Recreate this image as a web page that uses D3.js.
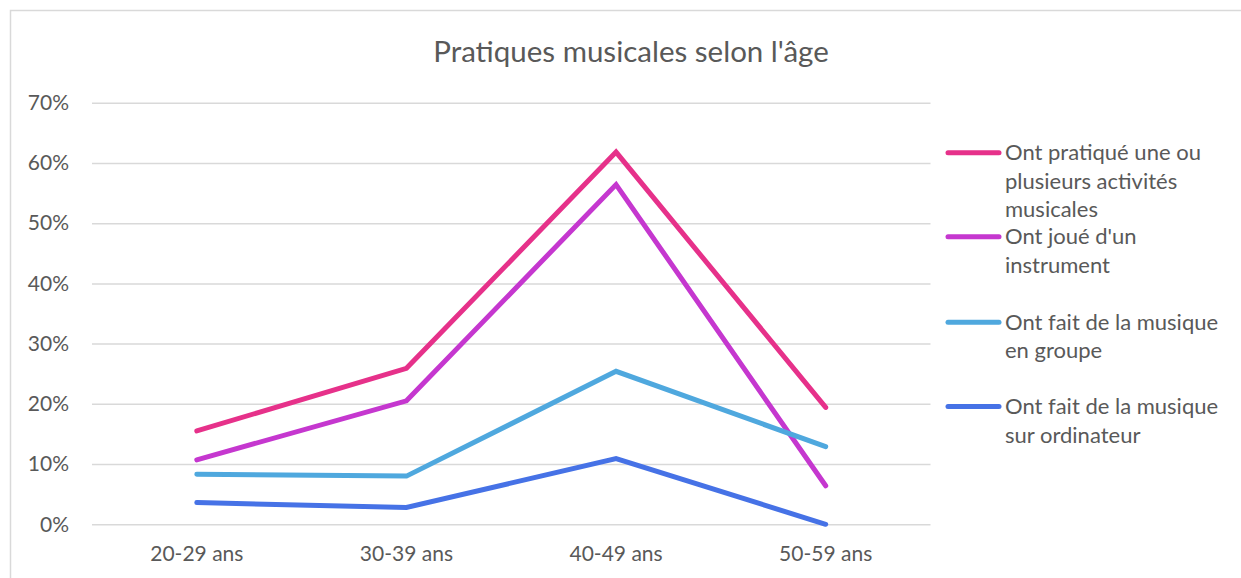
<!DOCTYPE html>
<html><head><meta charset="utf-8">
<script src="https://cdn.jsdelivr.net/npm/d3@7/dist/d3.min.js"></script>
<style>body{margin:0;background:#fff;} svg{display:block;}</style>
</head><body>
<svg id="c" width="1241" height="578"></svg>
<script>
const categories = ["20-29 ans","30-39 ans","40-49 ans","50-59 ans"];
const seriesNames = [
  ["Ont pratiqué une ou","plusieurs activités","musicales"],
  ["Ont joué d'un","instrument"],
  ["Ont fait de la musique","en groupe"],
  ["Ont fait de la musique","sur ordinateur"]
];
const pratique   = [0.155, 0.259, 0.618, 0.194];
const instrument = [0.107, 0.205, 0.564, 0.064];
const groupe     = [0.083, 0.080, 0.254, 0.129];
const ordinateur = [0.036, 0.028, 0.109, 0.000];
const yTicks = [0,0.1,0.2,0.3,0.4,0.5,0.6,0.7];
const colors = ["#E6318A","#C537CF","#4FA8DE","#4672E6"];
const title = "Pratiques musicales selon l'âge";

const series = [pratique, instrument, groupe, ordinateur];
const svg = d3.select("#c");
const font = "Lato, 'Open Sans', sans-serif";
const textColor = "#595959";

svg.append("rect").attr("x",10.5).attr("y",10.5).attr("width",1300).attr("height",600)
  .attr("fill","#fff").attr("stroke","#d9d9d9").attr("stroke-width",1.5);

const x = d3.scaleBand().domain(categories).range([92,930.5]);
const y = d3.scaleLinear().domain([0,0.7]).range([524.3,102.7]);

const yAxis = svg.append("g").attr("transform","translate(92,0)")
  .call(d3.axisLeft(y).tickValues(yTicks).tickFormat(d3.format(".0%")).tickSize(-838.5).tickPadding(23));
yAxis.select(".domain").remove();
yAxis.selectAll(".tick line").attr("stroke","#d9d9d9").attr("stroke-width",1.5);
yAxis.selectAll(".tick text").attr("fill",textColor).style("font-family",font).style("font-size","21px");

const xAxis = svg.append("g").attr("transform","translate(0,524.3)")
  .call(d3.axisBottom(x).tickSize(0).tickPadding(22));
xAxis.select(".domain").remove();
xAxis.selectAll(".tick text").attr("fill",textColor).style("font-family",font).style("font-size","21px");

const line = d3.line().x((d,i)=>x(categories[i])+x.bandwidth()/2).y(d=>y(d));
series.forEach((s,i)=>{
  svg.append("path").datum(s).attr("d",line).attr("fill","none")
    .attr("stroke",colors[i]).attr("stroke-width",5)
    .attr("stroke-linecap","round").attr("stroke-linejoin","miter");
});

svg.append("text").attr("x",631).attr("y",62).attr("text-anchor","middle")
  .attr("fill",textColor).style("font-family",font).style("font-size","29.5px").text(title);

const legendY = [152.7, 236.7, 322.3, 406.5];
seriesNames.forEach((lines,i)=>{
  const g = svg.append("g");
  g.append("line").attr("x1",948).attr("x2",999).attr("y1",legendY[i]).attr("y2",legendY[i])
    .attr("stroke",colors[i]).attr("stroke-width",5).attr("stroke-linecap","round");
  const t = g.append("text").attr("x",1005).attr("y",legendY[i]+7.5)
    .attr("fill",textColor).style("font-family",font).style("font-size","22px");
  lines.forEach((l,j)=>t.append("tspan").attr("x",1005).attr("dy",j===0?0:28.5).text(l));
});
</script>
</body></html>
